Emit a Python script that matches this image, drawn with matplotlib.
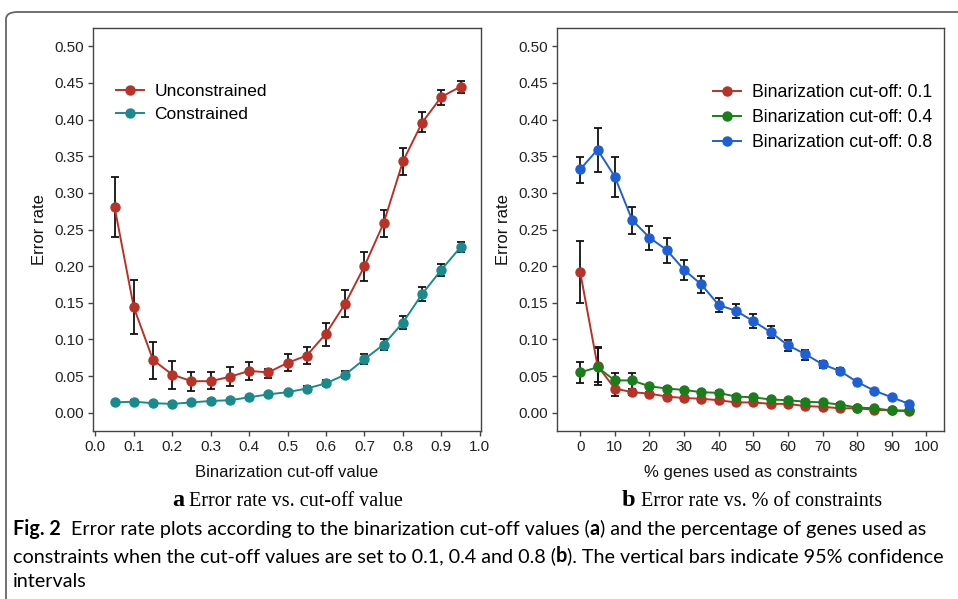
import numpy as np
import matplotlib.pyplot as plt
from matplotlib.patches import FancyBboxPatch

# panel a data
cutoff = [0.05, 0.10, 0.15, 0.20, 0.25, 0.30, 0.35, 0.40, 0.45, 0.50,
          0.55, 0.60, 0.65, 0.70, 0.75, 0.80, 0.85, 0.90, 0.95]
unc_mean = [0.281, 0.144, 0.072, 0.052, 0.043, 0.043, 0.049, 0.057, 0.055, 0.068,
            0.078, 0.108, 0.149, 0.200, 0.259, 0.343, 0.396, 0.431, 0.445]
unc_lo = [0.240, 0.107, 0.046, 0.032, 0.029, 0.032, 0.036, 0.045, 0.048, 0.057,
          0.066, 0.091, 0.131, 0.180, 0.240, 0.325, 0.383, 0.420, 0.436]
unc_hi = [0.322, 0.181, 0.097, 0.071, 0.055, 0.055, 0.062, 0.069, 0.060, 0.080,
          0.089, 0.123, 0.167, 0.219, 0.277, 0.361, 0.410, 0.441, 0.452]
con_mean = [0.014, 0.015, 0.013, 0.012, 0.014, 0.016, 0.017, 0.021, 0.025, 0.028,
            0.033, 0.040, 0.052, 0.073, 0.093, 0.123, 0.162, 0.195, 0.226]
con_err = [0.002, 0.002, 0.002, 0.002, 0.002, 0.002, 0.002, 0.002, 0.002, 0.002,
           0.003, 0.004, 0.005, 0.007, 0.007, 0.009, 0.009, 0.008, 0.007]

# panel b data
pct = [0, 5, 10, 15, 20, 25, 30, 35, 40, 45, 50, 55, 60, 65, 70, 75, 80, 85, 90, 95]
c01_mean = [0.192, 0.064, 0.033, 0.028, 0.026, 0.022, 0.020, 0.019, 0.017, 0.014,
            0.014, 0.012, 0.012, 0.009, 0.008, 0.006, 0.006, 0.004, 0.003, 0.002]
c01_lo = [0.150, 0.042, 0.023, 0.024, 0.024, 0.020, 0.018, 0.017, 0.015, 0.012,
          0.012, 0.010, 0.010, 0.008, 0.007, 0.005, 0.005, 0.003, 0.002, 0.001]
c01_hi = [0.234, 0.090, 0.042, 0.032, 0.028, 0.024, 0.022, 0.021, 0.019, 0.016,
          0.016, 0.014, 0.014, 0.010, 0.009, 0.007, 0.007, 0.005, 0.004, 0.003]
c04_mean = [0.055, 0.062, 0.044, 0.044, 0.036, 0.033, 0.031, 0.028, 0.027, 0.022,
            0.021, 0.018, 0.017, 0.015, 0.014, 0.011, 0.007, 0.006, 0.003, 0.003]
c04_lo = [0.041, 0.038, 0.033, 0.033, 0.034, 0.031, 0.029, 0.026, 0.025, 0.020,
          0.019, 0.016, 0.015, 0.013, 0.012, 0.009, 0.006, 0.005, 0.002, 0.002]
c04_hi = [0.069, 0.088, 0.054, 0.054, 0.038, 0.035, 0.033, 0.030, 0.029, 0.024,
          0.023, 0.020, 0.019, 0.017, 0.016, 0.013, 0.008, 0.007, 0.004, 0.004]
c08_mean = [0.332, 0.359, 0.322, 0.263, 0.239, 0.222, 0.195, 0.175, 0.147, 0.139,
            0.125, 0.110, 0.092, 0.080, 0.066, 0.057, 0.042, 0.030, 0.021, 0.012]
c08_lo = [0.313, 0.329, 0.295, 0.244, 0.222, 0.204, 0.181, 0.163, 0.137, 0.129,
          0.115, 0.102, 0.084, 0.072, 0.061, 0.053, 0.039, 0.027, 0.019, 0.010]
c08_hi = [0.349, 0.388, 0.349, 0.281, 0.255, 0.239, 0.209, 0.187, 0.156, 0.149,
          0.135, 0.118, 0.099, 0.086, 0.071, 0.061, 0.045, 0.033, 0.023, 0.014]

RED = '#B83228'
TEAL = '#1A8A8C'
GREEN = '#1B7E1B'
BLUE = '#1E5FD6'

plt.rcParams['font.family'] = ['Liberation Sans', 'DejaVu Sans']

fig = plt.figure(figsize=(9.58, 5.99), dpi=100)
W, H = 958, 599
renderer = fig.canvas.get_renderer()


def ax_rect(x0, y0, x1, y1):
    return [x0 / W, 1 - y1 / H, (x1 - x0) / W, (y1 - y0) / H]


def style(ax):
    for s in ax.spines.values():
        s.set_color('#444444')
        s.set_linewidth(1.0)
    ax.tick_params(direction='out', length=3.5, width=1.0, color='#444444',
                   labelsize=11, labelcolor='#222222', pad=3)
    ax.set_ylim(-0.025, 0.525)
    ax.set_yticks(np.arange(0, 0.51, 0.05))
    ax.set_yticklabels([f'{v:.2f}' for v in np.arange(0, 0.51, 0.05)])
    ax.set_ylabel('Error rate', fontsize=12, color='#111111', labelpad=5)


def series(ax, x, m, lo, hi, color, label):
    m = np.array(m)
    yerr = [m - np.array(lo), np.array(hi) - m]
    ax.errorbar(x, m, yerr=yerr, fmt='none', ecolor='#111111', elinewidth=1.3,
                capsize=3, capthick=1.3, zorder=2)
    ax.plot(x, m, '-o', color=color, lw=1.4, ms=6.5, label=label, zorder=3)


def runs(x, y, pieces, size, family):
    # place text pieces one after another on a line (pixel coords)
    for txt, bold, *extra in pieces:
        fs = extra[0] if extra else size
        t = fig.text(x / W, 1 - y / H, txt, fontsize=fs, family=family,
                     weight='bold' if bold else 'normal', va='baseline', ha='left')
        x += t.get_window_extent(renderer).width


# panel a
ax1 = fig.add_axes(ax_rect(93, 28, 481, 431))
style(ax1)
con = np.array(con_mean)
series(ax1, cutoff, unc_mean, unc_lo, unc_hi, RED, 'Unconstrained')
series(ax1, cutoff, con_mean, con - np.array(con_err), con + np.array(con_err),
       TEAL, 'Constrained')
ax1.set_xlim(-0.006, 1.003)
ax1.set_xticks(np.arange(0, 1.01, 0.1))
ax1.set_xticklabels([f'{v:.1f}' for v in np.arange(0, 1.01, 0.1)])
ax1.set_xlabel('Binarization cut-off value', fontsize=12, color='#111111', labelpad=8)
ax1.legend(loc='upper left', bbox_to_anchor=(0.02, 0.9), frameon=False,
           fontsize=12.5, handlelength=1.6, handletextpad=0.6, labelspacing=0.45)

# panel b
ax2 = fig.add_axes(ax_rect(557, 28, 944, 431))
style(ax2)
series(ax2, pct, c01_mean, c01_lo, c01_hi, RED, 'Binarization cut-off: 0.1')
series(ax2, pct, c04_mean, c04_lo, c04_hi, GREEN, 'Binarization cut-off: 0.4')
series(ax2, pct, c08_mean, c08_lo, c08_hi, BLUE, 'Binarization cut-off: 0.8')
ax2.set_xlim(-6.7, 105.1)
ax2.set_xticks(np.arange(0, 101, 10))
ax2.set_xlabel('% genes used as constraints', fontsize=12, color='#111111', labelpad=8)
ax2.legend(loc='upper right', bbox_to_anchor=(1.01, 0.9), frameon=False,
           fontsize=12.7, handlelength=1.6, handletextpad=0.6, labelspacing=0.45)

# sub captions
serif = ['Liberation Serif', 'DejaVu Serif']
runs(172, 506, [('a', True, 17.5), (' Error rate vs. cut-off value', False)], 14.5, serif)
runs(622, 506, [('b', True, 17.5), (' Error rate vs. % of constraints', False)], 14.5, serif)

# figure caption
cap = ['Lato', 'DejaVu Sans']
runs(13, 535, [('Fig. 2', True),
               ('  Error rate plots according to the binarization cut-off values (', False),
               ('a', True),
               (') and the percentage of genes used as', False)], 14.2, cap)
runs(13, 562, [('constraints when the cut-off values are set to 0.1, 0.4 and 0.8 (', False),
               ('b', True),
               ('). The vertical bars indicate 95% confidence', False)], 14.2, cap)
runs(13, 587, [('intervals', False)], 14.2, cap)

# outer frame
frame = FancyBboxPatch((6 / W, -0.05), 1.2, 1 - 12 / H + 0.05,
                       boxstyle='round,pad=0,rounding_size=0.012',
                       transform=fig.transFigure, fill=False, ec='#666666', lw=1.3,
                       clip_on=False)
fig.patches.append(frame)

fig.savefig('out.png', dpi=100)
